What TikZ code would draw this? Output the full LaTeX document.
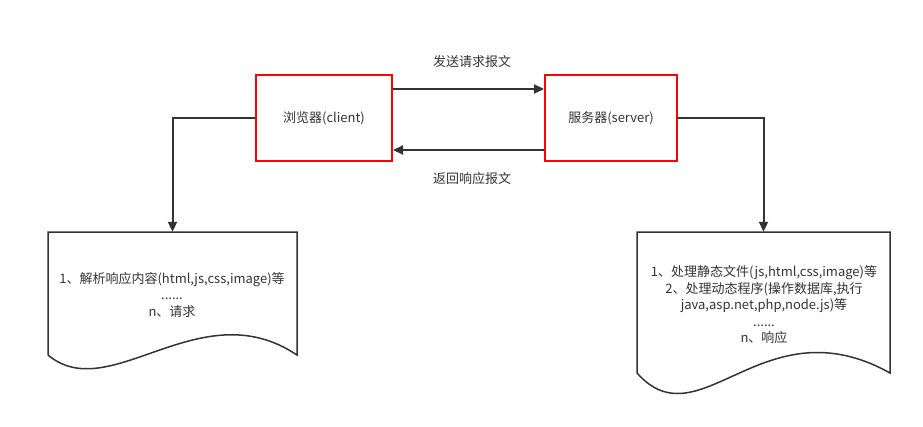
\documentclass[tikz,border=0pt]{standalone}
\usepackage{fontspec}
\setmainfont{Noto Sans CJK SC}
\usetikzlibrary{arrows.meta}
\definecolor{ink}{HTML}{333333}
\tikzset{
  srvbox/.style={draw=red, line width=2pt, minimum width=136pt, minimum height=86pt, inner sep=0pt, text=ink},
  conn/.style={draw=ink, line width=2pt, -{Triangle[length=10pt,width=9pt]}},
  docline/.style={draw=ink, line width=1.5pt},
  txt/.style={text=ink, font=\fontsize{13}{16.5}\selectfont, align=center},
  docarea/.style={inner sep=0pt}
}
\begin{document}
\begin{tikzpicture}[x=1pt,y=-1pt]
\useasboundingbox (0,0) rectangle (923,426);
\node[srvbox, txt] (client) at (324,118) {浏览器(client)};
\node[srvbox, txt, minimum width=132pt] (server) at (611,118) {服务器(server)};
% documents
\node[docarea, minimum width=249pt, minimum height=123pt] (ldoc) at (172.5,293.5) {};
\node[docarea, minimum width=253pt, minimum height=141pt] (rdoc) at (763.5,302.5) {};
\draw[docline] (48,355) -- (48,232) -- (297,232) -- (297,355)
  .. controls (200,290) and (110,407) .. (48,355);
\draw[docline] (637,373) -- (637,232) -- (890,232) -- (890,373)
  .. controls (763,302) and (700,444) .. (637,373);
\node[txt] (ltext) at (172,295) {1、解析响应内容(html,js,css,image)等\\......\\n、请求};
\node[txt] (rtext) at (764,305) {1、处理静态文件(js,html,css,image)等\\2、处理动态程序(操作数据库,执行\\java,asp.net,php,node.js)等\\......\\n、响应};
% connectors
\draw[conn] ([yshift=29pt]client.east) -- ([yshift=29pt]server.west);
\draw[conn] ([yshift=-32pt]server.west) -- ([yshift=-32pt]client.east);
\node[txt] (send) at (472,62) {发送请求报文};
\node[txt] (back) at (472,179) {返回响应报文};
\draw[conn] (client.west) -| (ldoc.north);
\draw[conn] (server.east) -| (rdoc.north);
\end{tikzpicture}
\end{document}
